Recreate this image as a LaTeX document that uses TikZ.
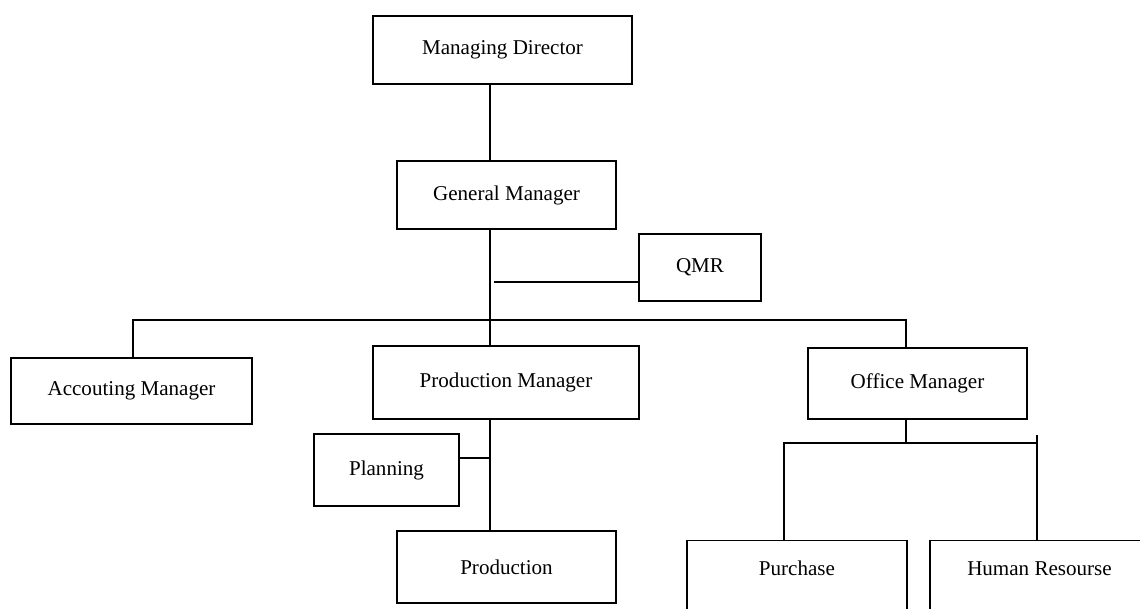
\documentclass[tikz,border=0pt]{standalone}
\usepackage{fontspec}
\setmainfont{Liberation Serif}
\begin{document}
\begin{tikzpicture}[x=0.75pt,y=-0.75pt,
  box/.style={draw,line width=1.1pt,inner sep=0pt,font=\fontsize{15.8}{19}\selectfont},
  conn/.style={line width=1.1pt}]
\useasboundingbox (0,0) rectangle (1140,609);
\clip (0,0) rectangle (1140,609);
% boxes
\node[box,minimum width=194.25pt,minimum height=51pt] (md) at (502.5,50) {Managing Director};
\node[box,minimum width=164.25pt,minimum height=51pt] (gm) at (506.5,195) {General Manager};
\node[box,minimum width=91.5pt,minimum height=50.25pt] (qmr) at (700,267.5) {QMR};
\node[box,minimum width=180.75pt,minimum height=49.5pt] (acc) at (131.5,391) {Accouting Manager};
\node[box,minimum width=199.5pt,minimum height=54.75pt] (pm) at (506,382.5) {Production Manager};
\node[box,minimum width=164.25pt,minimum height=53.25pt] (om) at (917.5,383.5) {Office Manager};
\node[box,minimum width=108.75pt,minimum height=54pt] (plan) at (386.5,470) {Planning};
\node[box,minimum width=164.25pt,minimum height=54pt] (prod) at (506.5,567) {Production};
\node[box,anchor=north,minimum width=165pt,text height=26.25pt,text depth=48.75pt] (pur) at (797,540) {Purchase};
\node[box,anchor=north,minimum width=164.25pt,text height=26.25pt,text depth=48.75pt] (hr) at (1039.5,540) {Human Resourse};
% coordinates
\coordinate (t) at (490,0);
\coordinate (qs) at (494,282);
\coordinate (busL) at (133,320);
\coordinate (busR) at (906,320);
\coordinate (pj) at (490,458);
\coordinate (oj) at (906,443);
\coordinate (ol) at (784,443);
\coordinate (or) at (1037,443);
\coordinate (ot) at (1037,435);
% connectors
\draw[conn] (md.south -| t) -- (gm.north -| t);
\draw[conn] (gm.south -| t) -- (pm.north -| t);
\draw[conn] (qs) -- (qs -| qmr.west);
\draw[conn] (acc.north -| busL) -- (busL) -- (busR) -- (om.north -| busR);
\draw[conn] (pm.south -| t) -- (prod.north -| t);
\draw[conn] (pj) -- (pj -| plan.east);
\draw[conn] (om.south -| oj) -- (oj);
\draw[conn] (pur.north -| ol) -- (ol) -- (or) -- (hr.north -| or);
\draw[conn] (ot) -- (or);
\end{tikzpicture}
\end{document}
